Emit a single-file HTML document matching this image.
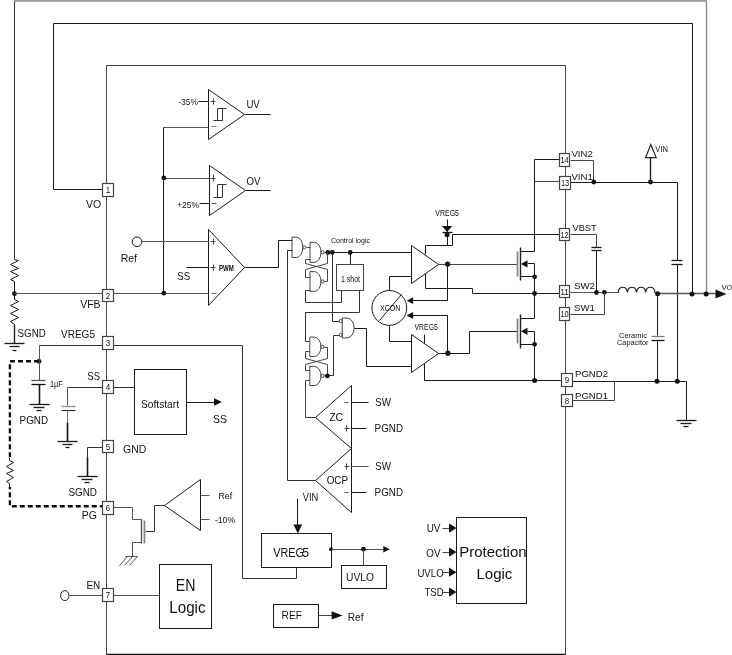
<!DOCTYPE html>
<html><head><meta charset="utf-8"><style>
html,body{margin:0;padding:0;background:#fff;}
svg{display:block;will-change:transform;}
text{font-family:"Liberation Sans",sans-serif;fill:#111;}
path,rect,circle,line,ellipse{fill:none;stroke:#1a1a1a;stroke-width:1;}
.f{fill:#111;stroke:none;}
.pin{fill:#fff;stroke:#444;stroke-width:1.2;}
.g{stroke:#444;}
.gray{stroke:#777;}
</style></head><body>
<svg width="732" height="655" viewBox="0 0 732 655">

<path d="M706.5,1.5 L706.5,294.5" style="stroke-width:1.4;stroke:#8a8a8a;"/>
<rect x="14" y="0" width="693" height="1.8" style="fill:#9c9c9c;stroke:none"/>
<path d="M14.5,1.5 L14.5,259.5" style="stroke:#333;"/>
<path d="M53.5,189.5 L53.5,23.5 L692.5,23.5 L692.5,294.5"/>
<path d="M106.5,65.5 L565.5,65.5 L565.5,654.5 L106.5,654.5 L106.5,65.5" style="stroke:#444;"/>
<path d="M106.5,654.5 L565.5,654.5" style="stroke-width:1.6;stroke:#111;"/>
<path d="M53.5,189.5 L102.5,189.5"/>
<path d="M14.5,259.5 L18.5,260.5 L10.5,264.5 L18.5,268.5 L10.5,271.5 L18.5,275.5 L10.5,279.5 L14.5,281.5"/>
<path d="M14.5,281.5 L14.5,299.5"/>
<path d="M14.5,299.5 L18.5,301.5 L10.5,305.5 L18.5,309.5 L10.5,313.5 L18.5,317.5 L10.5,321.5 L14.5,324.5"/>
<path d="M14.5,324.5 L14.5,343.5" style="stroke-width:1.4;"/>
<path d="M4.5,343.5 L24.5,343.5" style="stroke-width:1.3;"/>
<path d="M9.5,346.5 L19.5,346.5" style="stroke-width:1.3;"/>
<path d="M12.5,350.5 L16.5,350.5" style="stroke-width:1.3;"/>
<circle cx="14.5" cy="293.7" r="2.4" class="f"/>
<path d="M14.5,293.5 L208.5,293.5" style="stroke:#555;"/>
<circle cx="163.8" cy="293.2" r="2.4" class="f"/>
<path d="M163.5,127.5 L163.5,293.5"/>
<path d="M163.5,127.5 L208.5,127.5" style="stroke:#555;"/>
<path d="M163.5,178.5 L209.5,178.5" style="stroke:#555;"/>
<circle cx="163.8" cy="178" r="2.4" class="f"/>
<path d="M208.5,89.5 L244.5,114.5 L208.5,139.5 L208.5,89.5"/>
<path d="M244.5,114.5 L270.5,114.5"/>
<path d="M198.5,101.5 L208.5,101.5"/>
<path d="M210.5,101.5 L215.5,101.5" style="stroke-width:1.0;stroke:#444;"/>
<path d="M213.5,98.5 L213.5,104.5" style="stroke-width:1.0;stroke:#444;"/>
<path d="M211.5,126.5 L216.5,126.5" style="stroke:#777;"/>
<path d="M213.5,120.5 L222.5,120.5" style="stroke:#333;"/>
<path d="M217.5,120.5 L217.5,108.5 L226.5,108.5" style="stroke:#333;"/>
<path d="M222.5,108.5 L222.5,120.5" style="stroke:#333;"/>
<text x="178.3" y="105.3" font-size="9.4" textLength="19.6" lengthAdjust="spacingAndGlyphs">-35%</text>
<text x="246.4" y="108" font-size="11.2" textLength="13.4" lengthAdjust="spacingAndGlyphs">UV</text>
<path d="M209.5,165.5 L245.5,190.5 L209.5,215.5 L209.5,165.5"/>
<path d="M245.5,190.5 L270.5,190.5"/>
<path d="M199.5,203.5 L209.5,203.5"/>
<path d="M210.5,178.5 L215.5,178.5" style="stroke-width:1.0;stroke:#444;"/>
<path d="M213.5,174.5 L213.5,181.5" style="stroke-width:1.0;stroke:#444;"/>
<path d="M211.5,203.5 L216.5,203.5" style="stroke:#555;"/>
<path d="M213.5,197.5 L222.5,197.5" style="stroke:#333;"/>
<path d="M217.5,197.5 L217.5,184.5 L226.5,184.5" style="stroke:#333;"/>
<path d="M222.5,184.5 L222.5,197.5" style="stroke:#333;"/>
<text x="177.2" y="208.4" font-size="9.4" textLength="21.7" lengthAdjust="spacingAndGlyphs">+25%</text>
<text x="246.4" y="185" font-size="10.6" textLength="14" lengthAdjust="spacingAndGlyphs">OV</text>
<path d="M208.5,229.5 L244.5,267.5 L208.5,305.5 L208.5,229.5"/>
<circle cx="137" cy="241.8" r="4.8"/>
<path d="M141.5,241.5 L208.5,241.5" style="stroke:#555;"/>
<path d="M186.5,267.5 L208.5,267.5"/>
<path d="M210.5,241.5 L215.5,241.5" style="stroke-width:1.0;stroke:#444;"/>
<path d="M213.5,238.5 L213.5,244.5" style="stroke-width:1.0;stroke:#444;"/>
<path d="M210.5,267.5 L215.5,267.5" style="stroke-width:1.0;stroke:#444;"/>
<path d="M213.5,264.5 L213.5,270.5" style="stroke-width:1.0;stroke:#444;"/>
<path d="M211.5,293.5 L216.5,293.5" style="stroke:#777;"/>
<text x="218.9" y="270.7" font-size="9.6" textLength="14.8" lengthAdjust="spacingAndGlyphs" font-weight="bold" fill="#222">PWM</text>
<text x="120.7" y="262.3" font-size="10.5">Ref</text>
<text x="177.2" y="280.4" font-size="11.8" textLength="13" lengthAdjust="spacingAndGlyphs">SS</text>
<text x="86" y="208" font-size="10.5">VO</text>
<text x="80.2" y="307.6" font-size="10.5">VFB</text>
<text x="17.6" y="337" font-size="10.5" textLength="28.2" lengthAdjust="spacingAndGlyphs">SGND</text>
<text x="61" y="337.7" font-size="10.5" textLength="34" lengthAdjust="spacingAndGlyphs">VREG5</text>
<path d="M39.5,345.5 L242.5,345.5 L242.5,578.5 L296.5,578.5 L296.5,567.5" style="stroke:#333;"/>
<circle cx="39" cy="361.3" r="2.4" class="f"/>
<path d="M39.5,345.5 L39.5,380.5" style="stroke:#555;"/>
<path d="M31.5,380.5 L45.5,380.5" style="stroke-width:1.3;stroke:#555;"/>
<path d="M31.5,384.5 L45.5,384.5" style="stroke-width:1.3;stroke:#111;"/>
<path d="M39.5,384.5 L39.5,404.5" style="stroke-width:1.6;"/>
<path d="M29.5,404.5 L49.5,404.5" style="stroke-width:1.3;"/>
<path d="M33.5,407.5 L44.5,407.5" style="stroke-width:1.3;"/>
<path d="M36.5,410.5 L41.5,410.5" style="stroke-width:1.3;"/>
<text x="49.9" y="386.8" font-size="8.6" textLength="12.8" lengthAdjust="spacingAndGlyphs">1µF</text>
<text x="19.6" y="423.9" font-size="10.5" textLength="28.5" lengthAdjust="spacingAndGlyphs">PGND</text>
<path d="M39,361.3 H9.9 V506.3 H102.4" style="stroke:#111;stroke-width:2.4;stroke-dasharray:5,3;fill:none"/>
<rect x="5" y="457" width="10" height="30" style="fill:#fff;stroke:none"/>
<path d="M9.5,457.5 L9.5,460.5"/>
<path d="M9.5,460.5 L13.5,462.5 L6.5,466.5 L13.5,470.5 L6.5,473.5 L13.5,477.5 L6.5,481.5 L9.5,483.5"/>
<path d="M9.5,483.5 L9.5,487.5"/>
<text x="87.3" y="379.7" font-size="10.6" textLength="12.9" lengthAdjust="spacingAndGlyphs">SS</text>
<path d="M67.5,387.5 L134.5,387.5" style="stroke:#333;"/>
<path d="M67.5,387.5 L67.5,405.5" style="stroke:#555;"/>
<path d="M61.5,406.5 L75.5,406.5" style="stroke-width:1.5;stroke:#999;"/>
<path d="M61.5,410.5 L75.5,410.5" style="stroke-width:1.1;stroke:#222;"/>
<path d="M67.5,410.5 L67.5,422.5" style="stroke:#777;"/>
<path d="M67.5,422.5 L67.5,441.5" style="stroke-width:1.7;"/>
<path d="M57.5,441.5 L77.5,441.5" style="stroke-width:1.3;"/>
<path d="M62.5,444.5 L72.5,444.5" style="stroke-width:1.3;"/>
<path d="M65.5,447.5 L69.5,447.5" style="stroke-width:1.3;"/>
<rect x="134.5" y="369.5" width="52.0" height="65.0"/>
<text x="141" y="408" font-size="10.5" textLength="38" lengthAdjust="spacingAndGlyphs">Softstart</text>
<path d="M186.5,402.5 L214.5,402.5"/>
<path d="M214,398.2 L222,402 L214,405.8 Z" class="f"/>
<text x="213" y="423" font-size="10.5">SS</text>
<path d="M102.5,447.5 L87.5,447.5 L87.5,476.5" style="stroke:#333;"/>
<path d="M87.5,457.5 L87.5,476.5" style="stroke-width:1.6;"/>
<path d="M77.5,476.5 L97.5,476.5" style="stroke-width:1.3;"/>
<path d="M81.5,479.5 L92.5,479.5" style="stroke-width:1.3;"/>
<path d="M84.5,482.5 L89.5,482.5" style="stroke-width:1.3;"/>
<text x="123" y="453" font-size="10.5">GND</text>
<text x="68.4" y="495.6" font-size="10.5" textLength="28.6" lengthAdjust="spacingAndGlyphs">SGND</text>
<text x="81.7" y="518.5" font-size="10.5">PG</text>
<path d="M113.5,507.5 L132.5,507.5 L132.5,519.5 L141.5,519.5" style="stroke:#555;"/>
<path d="M141.5,519.5 L141.5,543.5" style="stroke-width:1.4;stroke:#555;"/>
<path d="M144.5,520.5 L144.5,543.5" style="stroke-width:1.8;stroke:#888;"/>
<path d="M145.5,531.5 L154.5,531.5 L154.5,505.5 L164.5,505.5" style="stroke:#333;"/>
<path d="M141.5,542.5 L132.5,542.5 L132.5,556.5" style="stroke:#555;"/>
<path d="M125.5,556.5 L137.5,556.5" style="stroke:#555;"/>
<path d="M127.5,556.5 L119.5,565.5" style="stroke:#555;"/>
<path d="M132.5,556.5 L124.5,565.5" style="stroke:#555;"/>
<path d="M137.5,556.5 L129.5,565.5" style="stroke:#555;"/>
<path d="M164.5,505.5 L200.5,479.5 L200.5,530.5 L164.5,505.5"/>
<path d="M200.5,495.5 L209.5,495.5" style="stroke:#555;"/>
<path d="M200.5,519.5 L209.5,519.5" style="stroke:#555;"/>
<text x="218.4" y="498.7" font-size="9.2" textLength="13.7" lengthAdjust="spacingAndGlyphs">Ref</text>
<text x="214.9" y="522.9" font-size="9.6" textLength="20.3" lengthAdjust="spacingAndGlyphs">-10%</text>
<ellipse cx="64.8" cy="595.6" rx="4.2" ry="5"/>
<path d="M69.5,595.5 L159.5,595.5" style="stroke:#555;"/>
<text x="86.4" y="589.3" font-size="10">EN</text>
<rect x="159.5" y="564.5" width="52.0" height="64.0"/>
<text x="175.8" y="591" font-size="16" textLength="19.7" lengthAdjust="spacingAndGlyphs">EN</text>
<text x="169.3" y="613" font-size="16" textLength="36.2" lengthAdjust="spacingAndGlyphs">Logic</text>
<rect x="102.5" y="183.5" width="11.0" height="13.0" class="pin"/>
<text x="105.8" y="193.1" font-size="8.8" textLength="4.4" lengthAdjust="spacingAndGlyphs" fill="#222">1</text>
<rect x="102.5" y="289.5" width="11.0" height="12.0" class="pin"/>
<text x="105.8" y="298.6" font-size="8.8" textLength="4.4" lengthAdjust="spacingAndGlyphs" fill="#222">2</text>
<rect x="102.5" y="336.5" width="11.0" height="13.0" class="pin"/>
<text x="105.8" y="346.1" font-size="8.8" textLength="4.4" lengthAdjust="spacingAndGlyphs" fill="#222">3</text>
<rect x="102.5" y="380.5" width="11.0" height="13.0" class="pin"/>
<text x="105.8" y="390.1" font-size="8.8" textLength="4.4" lengthAdjust="spacingAndGlyphs" fill="#222">4</text>
<rect x="102.5" y="440.5" width="11.0" height="12.0" class="pin"/>
<text x="105.8" y="449.6" font-size="8.8" textLength="4.4" lengthAdjust="spacingAndGlyphs" fill="#222">5</text>
<rect x="102.5" y="501.5" width="11.0" height="13.0" class="pin"/>
<text x="105.8" y="511.1" font-size="8.8" textLength="4.4" lengthAdjust="spacingAndGlyphs" fill="#222">6</text>
<rect x="102.5" y="588.5" width="11.0" height="13.0" class="pin"/>
<text x="105.8" y="598.1" font-size="8.8" textLength="4.4" lengthAdjust="spacingAndGlyphs" fill="#222">7</text>
<text x="331" y="242.6" font-size="7.6" textLength="39" lengthAdjust="spacingAndGlyphs" fill="#333">Control logic</text>
<path d="M244.5,267.5 L278.5,267.5 L278.5,240.5 L292.5,240.5"/>
<path d="M292.5,250.5 L287.5,250.5 L287.5,480.5 L315.5,480.5" style="stroke:#333;"/>
<path d="M292,237.2 H296.32 A6.480000000000007,10.150000000000006 0 0 1 296.32,257.5 H292 Z" class="g"/>
<circle cx="304.40000000000003" cy="247.35" r="1.6" class="g"/>
<path d="M306.5,247.5 L310.5,247.5" style="stroke:#444;"/>
<path d="M310,242.3 H314.4 A6.6,10.049999999999983 0 0 1 314.4,262.4 H310 Z" class="g"/>
<circle cx="322.6" cy="252.35" r="1.6" class="g"/>
<path d="M310,271.6 H314.4 A6.6,9.899999999999977 0 0 1 314.4,291.4 H310 Z" class="g"/>
<circle cx="322.6" cy="281.5" r="1.6" class="g"/>
<path d="M324.5,252.5 L411.5,252.5"/>
<circle cx="327.8" cy="252.5" r="2.4" class="f"/>
<circle cx="332.3" cy="252.5" r="2.4" class="f"/>
<circle cx="350.2" cy="252.5" r="2.4" class="f"/>
<path d="M327.5,252.5 L327.5,263.5 L305.5,269.5 L305.5,277.5 L310.5,277.5" style="stroke:#444;"/>
<path d="M324.5,281.5 L327.5,281.5 L327.5,269.5 L305.5,263.5 L305.5,259.5 L310.5,259.5" style="stroke:#444;"/>
<path d="M310.5,290.5 L305.5,290.5 L305.5,302.5 L341.5,302.5 L341.5,290.5" style="stroke:#333;"/>
<path d="M350.5,252.5 L350.5,264.5"/>
<rect x="336.5" y="264.5" width="27.0" height="26.0" class="g"/>
<text x="341" y="281.5" font-size="8.2" textLength="19" lengthAdjust="spacingAndGlyphs">1 shot</text>
<path d="M332.5,252.5 L332.5,321.5 L339.5,321.5" style="stroke:#333;"/>
<path d="M359.5,290.5 L359.5,312.5 L305.5,312.5 L305.5,341.5 L309.5,341.5" style="stroke:#333;"/>
<path d="M342.3,318 H347.02000000000004 A7.080000000000006,9.949999999999989 0 0 1 347.02000000000004,337.9 H342.3 Z" class="g"/>
<circle cx="340.7" cy="321" r="1.6" class="g"/>
<circle cx="340.7" cy="335" r="1.6" class="g"/>
<path d="M309.8,337.1 H314.28000000000003 A6.719999999999993,9.699999999999989 0 0 1 314.28000000000003,356.5 H309.8 Z" class="g"/>
<circle cx="322.6" cy="346.8" r="1.6" class="g"/>
<path d="M309.8,366.4 H314.28000000000003 A6.719999999999993,9.550000000000011 0 0 1 314.28000000000003,385.5 H309.8 Z" class="g"/>
<circle cx="322.6" cy="375.95" r="1.6" class="g"/>
<path d="M324.5,347.5 L327.5,347.5 L327.5,358.5 L305.5,364.5 L305.5,370.5 L309.5,370.5" style="stroke:#444;"/>
<path d="M309.5,351.5 L305.5,351.5 L305.5,358.5 L327.5,364.5 L327.5,375.5" style="stroke:#444;"/>
<path d="M324.5,375.5 L333.5,375.5 L333.5,335.5 L339.5,335.5" style="stroke:#333;"/>
<circle cx="327.4" cy="375.9" r="2.4" class="f"/>
<path d="M309.5,380.5 L305.5,380.5 L305.5,417.5 L315.5,417.5" style="stroke:#444;"/>
<path d="M354.5,328.5 L366.5,328.5 L366.5,366.5 L411.5,366.5"/>
<path d="M351.5,385.5 L315.5,417.5 L351.5,448.5 L351.5,385.5"/>
<path d="M351.5,448.5 L315.5,480.5 L351.5,512.5 L351.5,448.5"/>
<path d="M351.5,402.5 L368.5,402.5"/>
<path d="M351.5,428.5 L366.5,428.5"/>
<path d="M351.5,466.5 L368.5,466.5" style="stroke:#555;"/>
<path d="M351.5,492.5 L366.5,492.5"/>
<path d="M344.5,402.5 L348.5,402.5" style="stroke:#555;"/>
<path d="M344.5,428.5 L349.5,428.5" style="stroke-width:1.0;stroke:#444;"/>
<path d="M346.5,425.5 L346.5,431.5" style="stroke-width:1.0;stroke:#444;"/>
<path d="M344.5,466.5 L349.5,466.5" style="stroke-width:1.0;stroke:#444;"/>
<path d="M346.5,463.5 L346.5,469.5" style="stroke-width:1.0;stroke:#444;"/>
<path d="M344.5,492.5 L348.5,492.5" style="stroke:#555;"/>
<text x="329.2" y="420.6" font-size="11" textLength="14" lengthAdjust="spacingAndGlyphs">ZC</text>
<text x="326.7" y="484.3" font-size="11" textLength="21.3" lengthAdjust="spacingAndGlyphs">OCP</text>
<text x="375.2" y="406.1" font-size="10.5" textLength="15.6" lengthAdjust="spacingAndGlyphs">SW</text>
<text x="374.6" y="432.4" font-size="10.5" textLength="28.4" lengthAdjust="spacingAndGlyphs">PGND</text>
<text x="375.2" y="469.7" font-size="10.5" textLength="15.6" lengthAdjust="spacingAndGlyphs">SW</text>
<text x="374.6" y="495.8" font-size="10.5" textLength="28.4" lengthAdjust="spacingAndGlyphs">PGND</text>
<text x="435.3" y="215.7" font-size="8.2" textLength="23.7" lengthAdjust="spacingAndGlyphs" fill="#333">VREG5</text>
<path d="M447.5,219.5 L447.5,245.5"/>
<path d="M442,226 L452.2,226 L447.1,232 Z" class="f"/>
<path d="M442.5,232.5 L452.5,232.5" style="stroke-width:1.3;"/>
<circle cx="447.1" cy="234.8" r="2.5" class="f"/>
<path d="M425.5,254.5 L425.5,245.5 L452.5,245.5 L452.5,234.5 L559.5,234.5"/>
<path d="M411.5,245.5 L438.5,264.5 L411.5,283.5 L411.5,245.5"/>
<path d="M389.5,290.5 L389.5,276.5 L411.5,276.5"/>
<path d="M425.5,273.5 L425.5,288.5 L472.5,288.5 L472.5,293.5 L559.5,293.5"/>
<path d="M438.5,264.5 L517.5,264.5" style="stroke:#444;"/>
<circle cx="447.6" cy="264.1" r="2.6" class="f"/>
<path d="M447.5,264.5 L447.5,300.5 L412.5,300.5"/>
<path d="M413.1,297.3 L406.6,300.7 L413.1,304.09999999999997 Z" class="f"/>
<circle cx="389.3" cy="307.9" r="17.4"/>
<path d="M379.5,320.5 L401.5,294.5"/>
<text x="379.9" y="311.3" font-size="8.2" textLength="20.6" lengthAdjust="spacingAndGlyphs" fill="#333">XCON</text>
<text x="414.5" y="330" font-size="8.2" textLength="23.4" lengthAdjust="spacingAndGlyphs" fill="#333">VREG5</text>
<path d="M389.5,325.5 L389.5,341.5 L411.5,341.5"/>
<path d="M411.5,334.5 L438.5,353.5 L411.5,372.5 L411.5,334.5"/>
<path d="M424.5,334.5 L424.5,343.5"/>
<path d="M424.5,363.5 L424.5,380.5 L561.5,380.5"/>
<circle cx="447.9" cy="353.2" r="2.6" class="f"/>
<path d="M438.5,353.5 L469.5,353.5 L469.5,331.5 L517.5,331.5"/>
<path d="M447.5,353.5 L447.5,315.5 L412.5,315.5"/>
<path d="M413.1,312.1 L406.6,315.5 L413.1,318.9 Z" class="f"/>
<path d="M517.5,251.5 L517.5,276.5" style="stroke-width:1.8;stroke:#888;"/>
<path d="M520.5,247.5 L520.5,280.5" style="stroke-width:1.4;stroke:#222;"/>
<path d="M520.5,251.5 L534.5,251.5"/>
<path d="M521,263.9 L527.5,260.29999999999995 L527.5,267.5 Z" class="f"/>
<path d="M527.5,263.5 L534.5,263.5 L534.5,276.5"/>
<path d="M520.5,276.5 L534.5,276.5"/>
<circle cx="534.6" cy="276.8" r="2.4" class="f"/>
<path d="M517.5,318.5 L517.5,343.5" style="stroke-width:1.8;stroke:#888;"/>
<path d="M520.5,314.5 L520.5,348.5" style="stroke-width:1.4;stroke:#222;"/>
<path d="M520.5,318.5 L534.5,318.5"/>
<path d="M521,331.3 L527.5,327.7 L527.5,334.90000000000003 Z" class="f"/>
<path d="M527.5,331.5 L534.5,331.5 L534.5,344.5"/>
<path d="M520.5,344.5 L534.5,344.5"/>
<circle cx="534.6" cy="344.3" r="2.4" class="f"/>
<path d="M534.5,276.5 L534.5,318.5"/>
<path d="M534.5,344.5 L534.5,380.5"/>
<circle cx="534.6" cy="293.5" r="2.4" class="f"/>
<circle cx="534.6" cy="380.4" r="2.5" class="f"/>
<path d="M534.5,251.5 L534.5,159.5 L559.5,159.5"/>
<path d="M534.5,181.5 L559.5,181.5" style="stroke:#444;"/>
<path d="M570.5,160.5 L593.5,160.5 L593.5,182.5" style="stroke:#444;"/>
<path d="M570.5,182.5 L677.5,182.5 L677.5,381.5"/>
<circle cx="593.8" cy="182" r="2.4" class="f"/>
<circle cx="650.5" cy="182" r="2.4" class="f"/>
<path d="M650.5,182.5 L650.5,157.5" style="stroke-width:1.3;"/>
<path d="M645.6,157.6 L656.2,157.6 L650.8,144.5 Z" style="fill:#fff;stroke:#222;stroke-width:1.2"/>
<text x="655.3" y="152" font-size="8.4" textLength="12.7" lengthAdjust="spacingAndGlyphs" fill="#333">VIN</text>
<rect x="672" y="260.5" width="11" height="3.6" style="fill:#fff;stroke:none"/>
<path d="M671.5,260.5 L682.5,260.5" style="stroke-width:1.3;"/>
<path d="M671.5,264.5 L682.5,264.5" style="stroke-width:1.3;"/>
<text x="571.4" y="157.1" font-size="9.6" textLength="21.4" lengthAdjust="spacingAndGlyphs">VIN2</text>
<text x="571.4" y="180" font-size="9.6" textLength="21.4" lengthAdjust="spacingAndGlyphs">VIN1</text>
<text x="572.6" y="231.2" font-size="9.6" textLength="24" lengthAdjust="spacingAndGlyphs">VBST</text>
<text x="574" y="289" font-size="9.6" textLength="21" lengthAdjust="spacingAndGlyphs">SW2</text>
<text x="574" y="311.3" font-size="9.6" textLength="21" lengthAdjust="spacingAndGlyphs">SW1</text>
<text x="575" y="377" font-size="9.6" textLength="33" lengthAdjust="spacingAndGlyphs">PGND2</text>
<text x="575" y="399" font-size="9.6" textLength="33" lengthAdjust="spacingAndGlyphs">PGND1</text>
<path d="M570.5,234.5 L596.5,234.5 L596.5,247.5" style="stroke:#444;"/>
<path d="M591.5,247.5 L601.5,247.5" style="stroke-width:1.3;"/>
<path d="M591.5,250.5 L601.5,250.5" style="stroke-width:1.3;"/>
<path d="M596.5,250.5 L596.5,292.5"/>
<path d="M570.5,292.5 L618.5,292.5" style="stroke:#555;"/>
<circle cx="596.5" cy="292.5" r="2.4" class="f"/>
<circle cx="604.4" cy="292.3" r="2.4" class="f"/>
<path d="M604.5,292.5 L604.5,314.5 L570.5,314.5" style="stroke:#444;"/>
<path d="M618.2,292.5 C618.7,285.5 626.875,285.5 627.375,292.5 C627.875,285.5 636.05,285.5 636.55,292.5 C637.05,285.5 645.2249999999999,285.5 645.7249999999999,292.5 C646.2249999999999,285.5 654.3999999999999,285.5 654.8999999999999,292.5 " style="stroke:#222;stroke-width:1.2"/>
<path d="M654.5,292.5 L657.5,293.5"/>
<path d="M657.5,293.5 L716.5,293.5" style="stroke-width:1.3;stroke:#555;"/>
<circle cx="657.6" cy="293.8" r="2.5" class="f"/>
<circle cx="692" cy="294" r="2.5" class="f"/>
<circle cx="706.2" cy="294" r="2.5" class="f"/>
<path d="M715.5,289.6 L726.5,294 L715.5,298.4 Z" class="f"/>
<text x="721.7" y="290.3" font-size="8" textLength="10.5" lengthAdjust="spacingAndGlyphs" fill="#333">VO</text>
<path d="M657.5,293.5 L657.5,335.5"/>
<path d="M651.5,336.5 L664.5,336.5" style="stroke-width:1.3;stroke:#777;"/>
<path d="M651.5,340.5 L664.5,340.5" style="stroke-width:1.3;stroke:#111;"/>
<path d="M657.5,340.5 L657.5,381.5"/>
<text x="619" y="338.1" font-size="7.9" textLength="27.9" lengthAdjust="spacingAndGlyphs" fill="#333">Ceramic</text>
<text x="617" y="345.4" font-size="7.6" textLength="31.5" lengthAdjust="spacingAndGlyphs" fill="#333">Capacitor</text>
<path d="M572.5,381.5 L686.5,381.5 L686.5,420.5"/>
<circle cx="657" cy="381.2" r="2.5" class="f"/>
<circle cx="677.3" cy="381.2" r="2.5" class="f"/>
<path d="M572.5,400.5 L614.5,400.5 L614.5,381.5" style="stroke:#444;"/>
<path d="M676.5,420.5 L696.5,420.5" style="stroke-width:1.3;"/>
<path d="M680.5,423.5 L691.5,423.5" style="stroke-width:1.3;"/>
<path d="M683.5,426.5 L688.5,426.5" style="stroke-width:1.3;"/>
<rect x="559.5" y="153.5" width="10.0" height="13.0" class="pin"/>
<text x="560.4" y="163.1" font-size="8.8" textLength="8.2" lengthAdjust="spacingAndGlyphs" fill="#222">14</text>
<rect x="559.5" y="176.5" width="11.0" height="13.0" class="pin"/>
<text x="560.9" y="186.1" font-size="8.8" textLength="8.2" lengthAdjust="spacingAndGlyphs" fill="#222">13</text>
<rect x="559.5" y="228.5" width="10.0" height="12.0" class="pin"/>
<text x="560.4" y="237.6" font-size="8.8" textLength="8.2" lengthAdjust="spacingAndGlyphs" fill="#222">12</text>
<rect x="559.5" y="285.5" width="10.0" height="12.0" class="pin"/>
<text x="560.4" y="294.6" font-size="8.8" textLength="8.2" lengthAdjust="spacingAndGlyphs" fill="#222">11</text>
<rect x="559.5" y="307.5" width="10.0" height="13.0" class="pin"/>
<text x="560.4" y="317.1" font-size="8.8" textLength="8.2" lengthAdjust="spacingAndGlyphs" fill="#222">10</text>
<rect x="561.5" y="373.5" width="11.0" height="13.0" class="pin"/>
<text x="564.8" y="383.1" font-size="8.8" textLength="4.4" lengthAdjust="spacingAndGlyphs" fill="#222">9</text>
<rect x="561.5" y="394.5" width="11.0" height="12.0" class="pin"/>
<text x="564.8" y="403.6" font-size="8.8" textLength="4.4" lengthAdjust="spacingAndGlyphs" fill="#222">8</text>
<text x="302.7" y="501.1" font-size="10" textLength="15.5" lengthAdjust="spacingAndGlyphs">VIN</text>
<path d="M297.5,498.5 L297.5,526.5"/>
<path d="M293.5,524.6 L297.8,533.6 L302.1,524.6 Z" class="f"/>
<rect x="261.5" y="533.5" width="70.0" height="34.0"/>
<text x="273.2" y="557.3" font-size="12" textLength="30.8" lengthAdjust="spacingAndGlyphs">VREG</text>
<text x="302.2" y="557.3" font-size="12" textLength="6.8" lengthAdjust="spacingAndGlyphs">5</text>
<circle cx="331" cy="549.2" r="1.9" class="f"/>
<path d="M331.5,549.5 L384.5,549.5" style="stroke:#555;"/>
<path d="M383.3,545.9000000000001 L389.8,549.2 L383.3,552.5 Z" class="f"/>
<circle cx="363.5" cy="549.2" r="2.4" class="f"/>
<path d="M363.5,549.5 L363.5,565.5" style="stroke:#555;"/>
<rect x="341.5" y="565.5" width="45.0" height="23.0"/>
<text x="346.1" y="580.5" font-size="11" textLength="28" lengthAdjust="spacingAndGlyphs">UVLO</text>
<rect x="273.5" y="604.5" width="45.0" height="23.0"/>
<text x="281.6" y="619.3" font-size="11" textLength="20.4" lengthAdjust="spacingAndGlyphs">REF</text>
<path d="M318.5,615.5 L332.5,615.5" style="stroke:#444;"/>
<path d="M331.6,611.1999999999999 L342.6,615.4 L331.6,619.6 Z" class="f"/>
<text x="347.7" y="621.2" font-size="11" textLength="15.8" lengthAdjust="spacingAndGlyphs">Ref</text>
<rect x="456.5" y="517.5" width="70.0" height="86.0"/>
<text x="459.2" y="557.4" font-size="15" textLength="67.4" lengthAdjust="spacingAndGlyphs">Protection</text>
<text x="476.4" y="579.3" font-size="15" textLength="36" lengthAdjust="spacingAndGlyphs">Logic</text>
<path d="M442.5,528.5 L450.5,528.5" style="stroke:#444;"/>
<path d="M449.0,523.5 L456.5,528.1 L449.0,532.7 Z" class="f"/>
<text x="426.7" y="532.1" font-size="10.5" textLength="13.8" lengthAdjust="spacingAndGlyphs">UV</text>
<path d="M442.5,552.5 L450.5,552.5" style="stroke:#444;"/>
<path d="M449.0,547.5 L456.5,552.1 L449.0,556.7 Z" class="f"/>
<text x="426.3" y="556.7" font-size="10.5" textLength="14.2" lengthAdjust="spacingAndGlyphs">OV</text>
<path d="M442.5,572.5 L450.5,572.5" style="stroke:#444;"/>
<path d="M449.0,567.6 L456.5,572.2 L449.0,576.8000000000001 Z" class="f"/>
<text x="417.4" y="576.8000000000001" font-size="10.5" textLength="26.3" lengthAdjust="spacingAndGlyphs">UVLO</text>
<path d="M442.5,592.5 L450.5,592.5" style="stroke:#444;"/>
<path d="M449.0,587.5 L456.5,592.1 L449.0,596.7 Z" class="f"/>
<text x="424.5" y="596.1" font-size="10.5" textLength="19.2" lengthAdjust="spacingAndGlyphs">TSD</text>
</svg></body></html>
